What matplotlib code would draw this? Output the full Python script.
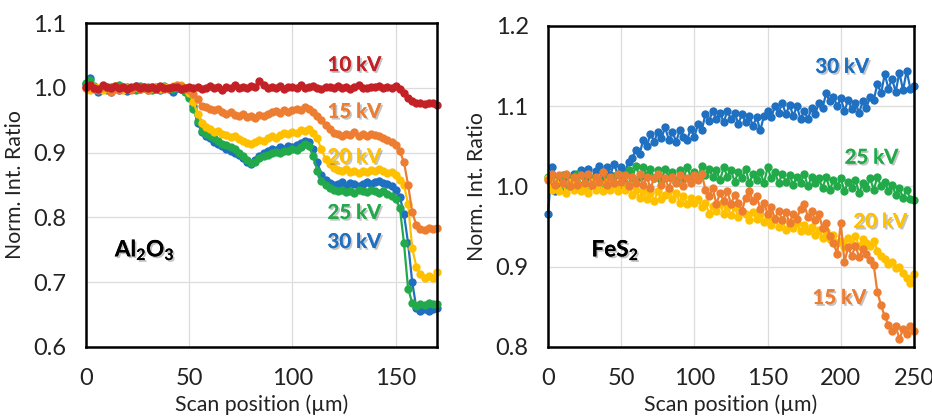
import numpy as np
import matplotlib
matplotlib.use('Agg')
import matplotlib.pyplot as plt
import matplotlib.patheffects as pe
from matplotlib.ticker import FormatStrFormatter

# ---- Al2O3 panel: scan position 0..170 um, step 2 um ----
al_x = np.arange(0, 171, 2)
al_10kv = [1.002, 1.005, 1.000, 0.998, 1.004, 1.001, 0.999, 1.003, 1.000, 1.002, 0.998, 1.001, 1.003,
           0.999, 1.002, 1.000, 1.001, 0.998, 1.003, 1.000, 0.999, 1.002, 1.001, 0.998, 1.000,
           1.001, 0.999, 1.002, 0.998, 1.000, 1.003, 0.999, 1.001, 0.997, 1.002, 1.000, 1.004, 0.999,
           1.002, 1.000, 1.003, 1.001, 1.010, 1.004, 0.999, 1.001, 1.000, 1.003, 0.998, 1.001,
           1.002, 1.000, 1.004, 0.999, 1.001, 1.003, 1.000, 0.998, 1.002, 1.001, 0.999, 1.003, 1.000,
           1.002, 0.998, 1.001, 1.004, 1.000, 0.999, 1.002, 1.001, 1.003, 0.999, 1.002, 1.000,
           1.003, 0.998, 0.992, 0.985, 0.980, 0.976, 0.977, 0.975, 0.977, 0.976, 0.974]
al_15kv = [1.000, 1.003, 0.998, 0.996, 1.001, 0.999, 0.994, 1.000, 0.997, 1.002, 0.999, 0.996, 1.001,
           0.998, 1.000, 0.997, 1.002, 0.999, 1.001, 0.998, 1.000, 1.002, 1.005, 1.003, 1.000,
           0.996, 0.990, 0.982, 0.972, 0.970, 0.968, 0.965, 0.967, 0.963, 0.960, 0.962, 0.958, 0.956,
           0.959, 0.955, 0.957, 0.954, 0.958, 0.956, 0.960, 0.962, 0.964, 0.961, 0.965, 0.963,
           0.966, 0.968, 0.965, 0.970, 0.967, 0.962, 0.957, 0.950, 0.942, 0.936, 0.930, 0.928, 0.926,
           0.929, 0.927, 0.932, 0.925, 0.928, 0.926, 0.929, 0.927, 0.925, 0.922, 0.920, 0.916,
           0.912, 0.902, 0.885, 0.850, 0.808, 0.788, 0.782, 0.780, 0.783, 0.782, 0.784]
al_20kv = [1.000, 0.997, 1.002, 0.999, 0.996, 1.001, 0.998, 1.003, 0.999, 0.996, 1.000, 0.998, 1.002,
           0.999, 1.001, 0.997, 1.000, 1.002, 0.998, 1.001, 0.999, 1.003, 1.001, 1.004, 1.000,
           0.992, 0.978, 0.960, 0.946, 0.940, 0.936, 0.932, 0.934, 0.929, 0.927, 0.924, 0.926, 0.921,
           0.918, 0.915, 0.913, 0.917, 0.920, 0.918, 0.922, 0.925, 0.923, 0.927, 0.930, 0.928,
           0.932, 0.930, 0.935, 0.933, 0.936, 0.931, 0.922, 0.905, 0.890, 0.882, 0.876, 0.873, 0.871,
           0.874, 0.870, 0.872, 0.869, 0.872, 0.870, 0.873, 0.871, 0.874, 0.872, 0.869, 0.870,
           0.865, 0.858, 0.850, 0.820, 0.752, 0.724, 0.712, 0.707, 0.709, 0.706, 0.715]
al_25kv = [1.008, 1.012, 1.003, 0.998, 1.002, 0.997, 1.001, 0.999, 1.004, 0.998, 1.002, 1.000, 0.997,
           1.003, 0.999, 1.001, 0.996, 1.002, 0.999, 1.003, 1.000, 0.998, 1.001, 0.999, 0.994,
           0.985, 0.968, 0.948, 0.934, 0.928, 0.925, 0.922, 0.918, 0.914, 0.911, 0.908, 0.905, 0.900,
           0.894, 0.888, 0.884, 0.886, 0.891, 0.895, 0.897, 0.899, 0.901, 0.900, 0.903, 0.902,
           0.905, 0.904, 0.908, 0.914, 0.910, 0.895, 0.872, 0.856, 0.850, 0.845, 0.842, 0.840, 0.843,
           0.839, 0.841, 0.838, 0.842, 0.840, 0.839, 0.843, 0.841, 0.838, 0.840, 0.836, 0.833,
           0.828, 0.815, 0.760, 0.690, 0.668, 0.664, 0.667, 0.665, 0.668, 0.666, 0.667]
al_30kv = [1.006, 1.015, 1.000, 0.994, 1.003, 0.998, 0.993, 1.001, 0.997, 1.002, 0.995, 1.000, 1.003,
           0.998, 1.001, 0.996, 0.999, 1.002, 0.997, 1.001, 0.998, 0.993, 1.000, 0.998, 0.996,
           0.988, 0.972, 0.946, 0.932, 0.926, 0.922, 0.917, 0.914, 0.910, 0.906, 0.902, 0.899, 0.896,
           0.891, 0.886, 0.883, 0.889, 0.895, 0.900, 0.903, 0.906, 0.904, 0.908, 0.906, 0.910,
           0.909, 0.912, 0.915, 0.918, 0.916, 0.905, 0.885, 0.866, 0.858, 0.853, 0.850, 0.852, 0.855,
           0.849, 0.853, 0.851, 0.848, 0.852, 0.855, 0.851, 0.854, 0.856, 0.853, 0.851, 0.848,
           0.842, 0.832, 0.805, 0.760, 0.700, 0.660, 0.656, 0.658, 0.655, 0.658, 0.660]

# ---- FeS2 panel: scan position 0..250 um, step 2.5 um ----
fe_x = np.arange(0, 250.1, 2.5)
fe_15kv = [1.008, 1.016, 1.002, 1.014, 1.004, 1.016, 1.000, 1.012, 1.002, 1.014,
           1.004, 1.016, 1.002, 1.012, 1.006, 1.018, 1.002, 1.012, 1.004, 1.016,
           1.006, 1.014, 1.000, 1.012, 1.004, 1.016, 1.002, 1.012, 0.998, 1.010,
           1.016, 1.002, 1.010, 0.998, 1.012, 1.004, 1.014, 1.000, 1.010, 1.004,
           1.014, 1.008, 1.016, 0.996, 0.988, 0.998, 0.978, 0.992, 0.982, 0.994,
           0.978, 0.990, 0.980, 0.970, 0.986, 0.994, 0.982, 0.988, 0.972, 0.980,
           0.966, 0.974, 0.960, 0.970, 0.958, 0.968, 0.954, 0.966, 0.960, 0.972,
           0.978, 0.962, 0.970, 0.958, 0.966, 0.948, 0.954, 0.938, 0.930, 0.916,
           0.954, 0.906, 0.924, 0.914, 0.926, 0.912, 0.922, 0.916, 0.908, 0.902,
           0.868, 0.852, 0.838, 0.828, 0.820, 0.826, 0.810, 0.822, 0.816, 0.826,
           0.820]
fe_20kv = [1.010, 0.996, 1.006, 0.994, 1.004, 0.992, 1.006, 0.996, 1.003, 0.994,
           1.002, 0.992, 1.006, 0.996, 1.004, 0.994, 1.006, 0.996, 1.002, 0.994,
           1.004, 0.996, 1.002, 0.990, 0.996, 0.986, 0.994, 0.984, 0.992, 0.982,
           0.994, 0.984, 0.990, 0.996, 0.984, 0.992, 0.980, 0.988, 0.978, 0.986,
           0.980, 0.984, 0.974, 0.980, 0.966, 0.976, 0.970, 0.978, 0.966, 0.974,
           0.964, 0.974, 0.962, 0.970, 0.966, 0.958, 0.968, 0.960, 0.966, 0.956,
           0.962, 0.952, 0.960, 0.950, 0.958, 0.946, 0.956, 0.948, 0.954, 0.944,
           0.952, 0.944, 0.950, 0.940, 0.946, 0.936, 0.944, 0.934, 0.940, 0.930,
           0.932, 0.924, 0.936, 0.928, 0.938, 0.926, 0.934, 0.930, 0.926, 0.932,
           0.920, 0.914, 0.910, 0.904, 0.906, 0.898, 0.900, 0.892, 0.886, 0.880,
           0.891]
fe_25kv = [1.012, 0.998, 1.010, 1.002, 1.014, 0.999, 1.011, 1.003, 1.015, 1.000,
           1.012, 0.999, 1.010, 1.004, 1.008, 0.997, 1.011, 1.002, 1.013, 1.000,
           1.014, 1.004, 1.020, 1.010, 1.026, 1.012, 1.024, 1.014, 1.022, 1.010,
           1.020, 1.008, 1.022, 1.012, 1.018, 1.006, 1.020, 1.010, 1.024, 1.012,
           1.018, 1.010, 1.026, 1.014, 1.022, 1.012, 1.020, 1.008, 1.024, 1.012,
           1.020, 1.006, 1.018, 1.010, 1.022, 1.004, 1.016, 1.008, 1.018, 1.004,
           1.024, 1.010, 1.018, 1.004, 1.016, 1.006, 1.014, 1.002, 1.012, 1.004,
           1.016, 1.000, 1.012, 1.004, 1.010, 0.998, 1.012, 0.996, 1.008, 1.000,
           1.010, 0.994, 1.006, 0.998, 1.008, 0.992, 1.004, 0.998, 1.010, 0.996,
           1.012, 1.000, 1.006, 0.994, 1.002, 0.990, 0.998, 0.986, 0.996, 0.984,
           0.983]
fe_30kv = [0.966, 1.024, 0.994, 1.008, 0.997, 1.010, 1.001, 1.016, 1.004, 1.020,
           1.010, 1.022, 1.008, 1.019, 1.026, 1.012, 1.024, 1.014, 1.028, 1.016,
           1.024, 1.018, 1.030, 1.036, 1.045, 1.040, 1.058, 1.050, 1.066, 1.056,
           1.068, 1.060, 1.074, 1.058, 1.068, 1.056, 1.070, 1.062, 1.058, 1.072,
           1.062, 1.078, 1.070, 1.090, 1.082, 1.094, 1.084, 1.092, 1.080, 1.094,
           1.084, 1.092, 1.078, 1.090, 1.080, 1.088, 1.076, 1.086, 1.070, 1.088,
           1.094, 1.086, 1.100, 1.092, 1.104, 1.090, 1.102, 1.088, 1.100, 1.084,
           1.094, 1.084, 1.098, 1.090, 1.104, 1.098, 1.116, 1.106, 1.112, 1.100,
           1.110, 1.094, 1.108, 1.096, 1.104, 1.092, 1.106, 1.098, 1.112, 1.108,
           1.128, 1.116, 1.140, 1.122, 1.134, 1.118, 1.142, 1.120, 1.144, 1.122,
           1.125]

RED = '#C42126'
ORANGE = '#ED7D31'
YELLOW = '#FFC000'
GREEN = '#22AA4A'
BLUE = '#1F70C1'

plt.rcParams['font.family'] = ['Lato', 'DejaVu Sans']

fig = plt.figure(figsize=(9.32, 4.16), dpi=100)
ax1 = fig.add_axes([0.0923, 0.1659, 0.3766, 0.7788])
ax2 = fig.add_axes([0.588, 0.1659, 0.3927, 0.7716])

shadow = [pe.withSimplePatchShadow(offset=(1.3, -1.3), shadow_rgbFace='#555555', alpha=0.35), pe.Normal()]


def style_axes(ax, xlim, ylim, xticks, yticks):
    ax.set_xlim(*xlim)
    ax.set_ylim(*ylim)
    ax.set_xticks(xticks)
    ax.set_yticks(yticks)
    ax.yaxis.set_major_formatter(FormatStrFormatter('%.1f'))
    ax.grid(True, color='#dcdcdc', linewidth=0.9)
    ax.set_axisbelow(True)
    for s in ax.spines.values():
        s.set_linewidth(1.8)
        s.set_color('black')
    ax.tick_params(axis='both', length=0, labelsize=17, colors='#222222')
    ax.tick_params(axis='y', pad=14)
    ax.tick_params(axis='x', pad=15)
    ax.set_xlabel('Scan position (\u00b5m)', fontsize=15.3, labelpad=4, color='#222222')
    ax.set_ylabel('Norm. Int. Ratio', fontsize=15.3, labelpad=6, color='#222222')


def draw(ax, x, y, color):
    ax.plot(x, y, color=color, linewidth=1.6, marker='o', markersize=6,
            markeredgewidth=0, clip_on=False)


# Left panel
for y, c in [(al_30kv, BLUE), (al_25kv, GREEN), (al_20kv, YELLOW), (al_15kv, ORANGE), (al_10kv, RED)]:
    draw(ax1, al_x, y, c)
style_axes(ax1, (0, 170), (0.6, 1.1), [0, 50, 100, 150], [0.6, 0.7, 0.8, 0.9, 1.0, 1.1])
for txt, yy, c in [('10 kV', 1.035, RED), ('15 kV', 0.963, ORANGE), ('20 kV', 0.893, YELLOW),
                   ('25 kV', 0.807, GREEN), ('30 kV', 0.762, BLUE)]:
    ax1.text(130, yy, txt, color=c, fontsize=14.7, fontweight='bold', ha='center', va='center',
             path_effects=shadow)
ax1.text(28.5, 0.75, r'Al$_\mathregular{2}$O$_\mathregular{3}$', fontsize=16.2, fontweight='bold',
         ha='center', va='center', path_effects=shadow)

# Right panel
for y, c in [(fe_30kv, BLUE), (fe_25kv, GREEN), (fe_20kv, YELLOW), (fe_15kv, ORANGE)]:
    draw(ax2, fe_x, y, c)
style_axes(ax2, (0, 250), (0.8, 1.2), [0, 50, 100, 150, 200, 250], [0.8, 0.9, 1.0, 1.1, 1.2])
for txt, xx, yy, c in [('30 kV', 201, 1.149, BLUE), ('25 kV', 221, 1.036, GREEN),
                       ('20 kV', 227, 0.956, YELLOW), ('15 kV', 199, 0.861, ORANGE)]:
    ax2.text(xx, yy, txt, color=c, fontsize=14.7, fontweight='bold', ha='center', va='center',
             path_effects=shadow)
ax2.text(46, 0.921, r'FeS$_\mathregular{2}$', fontsize=16.2, fontweight='bold',
         ha='center', va='center', path_effects=shadow)

fig.savefig('out.png', dpi=100)
